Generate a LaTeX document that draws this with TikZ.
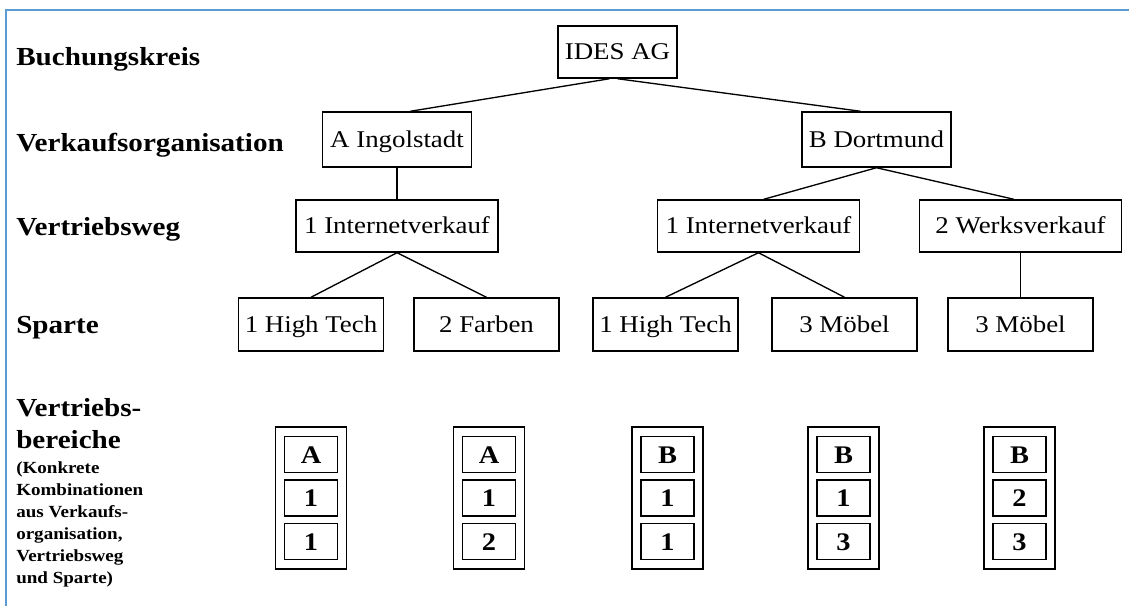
\documentclass[tikz,border=0pt]{standalone}
\usepackage{fontspec}
\setmainfont{Liberation Serif}[FakeStretch=1.12]
\definecolor{frameblue}{RGB}{91,155,213}
\begin{document}
\begin{tikzpicture}[x=0.75pt,y=-0.75pt,
  box/.style={draw,line width=1.1pt,inner sep=0pt,text height=12.5pt,text depth=0.5pt,
    font=\fontsize{18pt}{22pt}\selectfont},
  toprow/.style={box,minimum width=89.25pt,minimum height=39pt},
  orgrow/.style={box,minimum width=111.75pt,minimum height=41.25pt},
  wegrow/.style={box,minimum width=151.5pt,minimum height=39pt},
  sprow/.style={box,minimum width=108.5pt,minimum height=39.75pt},
  outerbox/.style={draw,line width=1.2pt,inner sep=0pt,minimum width=53.25pt,minimum height=106.5pt},
  innerbox/.style={draw,line width=1.2pt,inner sep=0pt,minimum width=39.75pt,minimum height=27pt,
    text height=13pt,text depth=0pt,font=\bfseries\fontsize{19pt}{22pt}\selectfont},
  conn/.style={line width=1pt},
  lab/.style={anchor=base west,inner sep=0pt,font=\bfseries\fontsize{19.5pt}{24pt}\selectfont},
  smalllab/.style={anchor=base west,inner sep=0pt,font=\bfseries\fontsize{12.75pt}{16pt}\selectfont},
  frame/.style={draw=frameblue,line width=1.5pt}]
\useasboundingbox (0,0) rectangle (1129,606);
% blue frame
\coordinate (f1) at (6,606);
\coordinate (f2) at (6,10);
\coordinate (f3) at (1129,10);
\draw[frame] (f1) -- (f2) -- (f3);

% level labels
\node[lab] (l1) at (16,66) {Buchungskreis};
\node[lab] (l2) at (16,152) {Verkaufsorganisation};
\node[lab] (l3) at (16,236) {Vertriebsweg};
\node[lab] (l4) at (16,334) {Sparte};
\node[lab] (l5a) at (16,416) {Vertriebs-};
\node[lab] (l5b) at (16,448) {bereiche};
\node[smalllab] (s1) at (16,473) {(Konkrete};
\node[smalllab] (s2) at (16,495) {Kombinationen};
\node[smalllab] (s3) at (16,517) {aus Verkaufs-};
\node[smalllab] (s4) at (16,539) {organisation,};
\node[smalllab] (s5) at (16,561) {Vertriebsweg};
\node[smalllab] (s6) at (16,583) {und Sparte)};

% tree
\node[toprow] (ides) at (617.5,52) {IDES AG};
\node[orgrow] (aing) at (397,139.5) {A Ingolstadt};
\node[orgrow] (bdo) at (876.5,139.5) {B Dortmund};
\node[wegrow] (wa1) at (397,226) {1 Internetverkauf};
\node[wegrow] (wb1) at (758.5,226) {1 Internetverkauf};
\node[wegrow] (wb2) at (1020.5,226) {2 Werksverkauf};
\node[sprow] (sa1) at (311,324.5) {1 High Tech};
\node[sprow] (sa2) at (486.5,324.5) {2 Farben};
\node[sprow] (sb1) at (665.5,324.5) {1 High Tech};
\node[sprow] (sb3) at (844.5,324.5) {3 Möbel};
\node[sprow] (sc3) at (1020.5,324.5) {3 Möbel};

\draw[conn] ([xshift=-6pt]ides.south) -- ([xshift=10pt]aing.north);
\draw[conn] (ides.south) -- ([xshift=-12pt]bdo.north);
\draw[conn] (aing.south) -- (wa1.north);
\draw[conn] (bdo.south) -- ([xshift=4pt]wb1.north);
\draw[conn] (bdo.south) -- ([xshift=-5pt]wb2.north);
\draw[conn] (wa1.south) -- (sa1.north);
\draw[conn] (wa1.south) -- (sa2.north);
\draw[conn] (wb1.south) -- (sb1.north);
\draw[conn] (wb1.south) -- (sb3.north);
\draw[conn] (wb2.south) -- (sc3.north);

% Vertriebsbereiche
\foreach \n/\x/\a/\b/\c in {g1/311/A/1/1, g2/489/A/1/2, g3/667.5/B/1/1, g4/843.5/B/1/3, g5/1019.5/B/2/3}{
  \node[outerbox] (\n) at (\x,498) {};
  \node[innerbox] (\n a) at (\x,454.5) {\a};
  \node[innerbox] (\n b) at (\x,498) {\b};
  \node[innerbox] (\n c) at (\x,541.5) {\c};
}
\end{tikzpicture}
\end{document}
